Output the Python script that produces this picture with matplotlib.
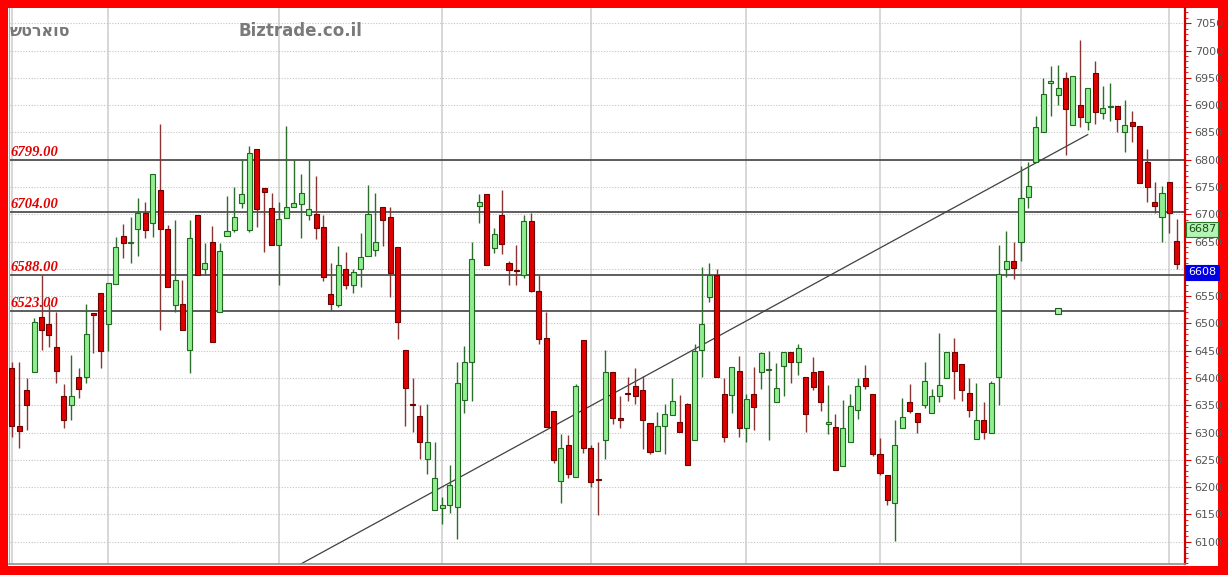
import matplotlib
matplotlib.use("Agg")
import matplotlib.pyplot as plt
from matplotlib.patches import Rectangle
from matplotlib.ticker import MultipleLocator, FuncFormatter
import numpy as np

# Daily OHLC prices
opens = [6419, 6312, 6378, 6410, 6511, 6499, 6456, 6366, 6350, 6401,
         6401, 6519, 6555, 6499, 6572, 6661, 6648, 6673, 6702, 6684,
         6745, 6673, 6533, 6536, 6451, 6699, 6599, 6650, 6521, 6660,
         6671, 6721, 6671, 6820, 6748, 6711, 6644, 6693, 6713, 6719,
         6699, 6700, 6676, 6554, 6534, 6600, 6570, 6600, 6624, 6635,
         6714, 6695, 6640, 6451, 6353, 6330, 6251, 6158, 6161, 6167,
         6164, 6360, 6429, 6716, 6737, 6638, 6699, 6611, 6598, 6589,
         6687, 6560, 6473, 6340, 6212, 6277, 6219, 6470, 6271, 6215,
         6287, 6410, 6326, 6372, 6386, 6378, 6318, 6266, 6312, 6332,
         6320, 6352, 6286, 6451, 6548, 6589, 6371, 6369, 6412, 6308,
         6371, 6410, 6415, 6355, 6421, 6447, 6430, 6401, 6410, 6413,
         6316, 6311, 6239, 6282, 6341, 6399, 6371, 6260, 6222, 6170,
         6308, 6356, 6335, 6350, 6335, 6367, 6399, 6448, 6425, 6372,
         6288, 6322, 6300, 6401, 6600, 6615, 6649, 6731, 6795, 6850,
         6941, 6918, 6950, 6864, 6901, 6869, 6959, 6886, 6897, 6899,
         6850, 6869, 6861, 6796, 6722, 6695, 6760, 6651]
highs = [6429, 6429, 6399, 6510, 6588, 6536, 6521, 6389, 6442, 6418,
         6536, 6519, 6555, 6574, 6658, 6683, 6695, 6729, 6723, 6774,
         6866, 6681, 6690, 6580, 6690, 6699, 6648, 6679, 6648, 6733,
         6750, 6800, 6825, 6820, 6748, 6739, 6722, 6861, 6800, 6773,
         6800, 6771, 6698, 6611, 6641, 6631, 6600, 6666, 6754, 6739,
         6714, 6714, 6640, 6451, 6399, 6350, 6352, 6282, 6181, 6240,
         6430, 6459, 6650, 6738, 6737, 6674, 6744, 6615, 6643, 6699,
         6702, 6589, 6521, 6340, 6298, 6295, 6388, 6470, 6277, 6283,
         6451, 6410, 6367, 6401, 6419, 6404, 6318, 6337, 6352, 6399,
         6369, 6354, 6463, 6604, 6611, 6599, 6399, 6420, 6441, 6371,
         6420, 6448, 6449, 6427, 6447, 6447, 6463, 6401, 6438, 6413,
         6387, 6334, 6360, 6370, 6399, 6423, 6371, 6290, 6222, 6323,
         6364, 6389, 6335, 6430, 6379, 6482, 6448, 6473, 6425, 6399,
         6391, 6355, 6395, 6644, 6669, 6650, 6788, 6795, 6880, 6950,
         6972, 6973, 6961, 6953, 7019, 6932, 6981, 6935, 6940, 6899,
         6910, 6889, 6861, 6819, 6759, 6751, 6760, 6692]
lows = [6292, 6271, 6305, 6410, 6451, 6456, 6391, 6309, 6323, 6364,
        6391, 6445, 6418, 6450, 6572, 6620, 6611, 6623, 6656, 6658,
        6488, 6566, 6521, 6488, 6409, 6588, 6588, 6465, 6521, 6660,
        6667, 6711, 6667, 6677, 6630, 6643, 6571, 6693, 6713, 6656,
        6689, 6655, 6577, 6525, 6530, 6563, 6555, 6566, 6624, 6623,
        6641, 6549, 6471, 6312, 6301, 6251, 6224, 6158, 6132, 6152,
        6104, 6336, 6357, 6684, 6607, 6629, 6628, 6571, 6570, 6583,
        6557, 6462, 6311, 6244, 6170, 6216, 6219, 6262, 6201, 6148,
        6252, 6316, 6308, 6358, 6352, 6269, 6260, 6266, 6260, 6332,
        6301, 6240, 6286, 6401, 6540, 6402, 6282, 6335, 6291, 6283,
        6304, 6379, 6286, 6355, 6367, 6391, 6405, 6301, 6377, 6340,
        6298, 6231, 6239, 6282, 6324, 6379, 6257, 6222, 6167, 6101,
        6308, 6335, 6300, 6344, 6335, 6355, 6399, 6362, 6358, 6328,
        6288, 6289, 6300, 6350, 6585, 6581, 6614, 6711, 6795, 6850,
        6880, 6901, 6809, 6864, 6860, 6854, 6866, 6875, 6871, 6850,
        6814, 6832, 6757, 6722, 6702, 6649, 6666, 6600]
closes = [6312, 6303, 6350, 6502, 6487, 6479, 6413, 6323, 6367, 6380,
          6481, 6515, 6450, 6574, 6640, 6647, 6650, 6702, 6671, 6774,
          6673, 6566, 6580, 6488, 6656, 6588, 6611, 6465, 6633, 6670,
          6695, 6737, 6812, 6710, 6741, 6643, 6692, 6713, 6720, 6739,
          6710, 6675, 6585, 6536, 6607, 6570, 6594, 6621, 6700, 6650,
          6689, 6592, 6502, 6381, 6351, 6282, 6282, 6216, 6168, 6204,
          6391, 6429, 6618, 6722, 6607, 6663, 6646, 6597, 6596, 6687,
          6560, 6471, 6311, 6250, 6272, 6224, 6385, 6271, 6210, 6213,
          6410, 6326, 6322, 6370, 6367, 6323, 6265, 6312, 6334, 6358,
          6301, 6240, 6450, 6499, 6588, 6402, 6291, 6420, 6308, 6361,
          6347, 6445, 6417, 6381, 6447, 6430, 6454, 6334, 6383, 6355,
          6320, 6231, 6308, 6349, 6385, 6385, 6260, 6226, 6176, 6277,
          6329, 6340, 6319, 6395, 6367, 6387, 6448, 6413, 6377, 6342,
          6322, 6301, 6391, 6591, 6614, 6601, 6730, 6752, 6860, 6921,
          6944, 6932, 6893, 6953, 6879, 6932, 6887, 6895, 6899, 6875,
          6864, 6861, 6757, 6750, 6716, 6739, 6702, 6608]

# Support / resistance levels and trend line
levels = [6799, 6704, 6588, 6523]
trend_start = (38, 6052)
trend_end = (145, 6846)
anchor_point = (141, 6523)
indicator_value = 6687

# First session of each month
month_starts = [0, 13, 36, 58, 78, 99, 117, 136, 156]

ticker_name = "שטראוס"
site_name = "Biztrade.co.il"

W, H = 1228, 575
fig = plt.figure(figsize=(W / 100, H / 100), dpi=100, facecolor="#ff0000")

# white canvas inside the red frame
fig.patches.append(Rectangle((8 / W, 9 / H), (1218 - 8) / W, (566 - 8) / H,
                             transform=fig.transFigure, fc="white", ec="none",
                             zorder=-10))

ax = fig.add_axes([9 / W, 11 / H, (1185 - 9) / W, (564 - 8) / H])
ax.set_facecolor("white")

n = len(closes)
x = np.arange(n)
o = np.array(opens, float)
c = np.array(closes, float)
h = np.array(highs, float)
l = np.array(lows, float)
up = c >= o

# month separators and dotted price grid
ax.vlines(month_starts, 6000, 7200, colors="#d4d4d4", lw=1.3, zorder=0.5)
ax.yaxis.grid(True, which="major", color="#c4c4c4", linestyle=(0, (1, 1.5)), lw=0.8, zorder=0.4)
ax.set_axisbelow(True)

# horizontal levels with their labels
for lv in levels:
    ax.axhline(lv, color="#505050", lw=1.3, zorder=1.5)
    ax.annotate(f"{lv:.2f}", xy=(0, lv), xycoords=ax.get_yaxis_transform(),
                xytext=(1, 3), textcoords="offset points", color="#e00000",
                fontsize=10.5, fontweight="bold", fontstyle="italic",
                family="Liberation Serif", va="baseline", ha="left", zorder=5)

# trend line
ax.plot([trend_start[0], trend_end[0]], [trend_start[1], trend_end[1]],
        color="#404040", lw=0.9, zorder=1.6)

# candles
wick_colors = np.where(up, "#2d6e2d", "#8b3434")
ax.vlines(x, l, h, colors=wick_colors, lw=1.0, zorder=2)
body_bottom = np.minimum(o, c)
body_height = np.maximum(np.abs(c - o), 1.5)
face = np.where(up, "#90ee90", "#e00000")
edge = np.where(up, "#1f6a1f", "#6e0000")
ax.bar(x, body_height, bottom=body_bottom, width=0.68, color=face,
       edgecolor=edge, linewidth=0.8, zorder=3)

# anchor marker
ax.plot(anchor_point[0], anchor_point[1], marker="s", ms=5, mfc="#a8f0a8",
        mec="#205a20", mew=0.8, zorder=4)

ax.set_xlim(-0.38, 158.1)
ax.set_ylim(6059, 7078)

# price axis on the right; the last-close box covers the tick label beneath it
last_close = closes[-1]


def price_label(v, pos):
    if last_close - 26 <= v <= last_close:
        return ""
    return f"{v:.0f}"


ax.yaxis.tick_right()
ax.yaxis.set_major_locator(MultipleLocator(50))
ax.yaxis.set_minor_locator(MultipleLocator(10))
ax.yaxis.set_major_formatter(FuncFormatter(price_label))
ax.tick_params(axis="y", which="major", length=4, color="#dd0000",
               labelsize=8, labelcolor="#555555", pad=3)
ax.tick_params(axis="y", which="minor", length=2, color="#dd0000")
ax.tick_params(axis="x", which="both", bottom=False, labelbottom=False)

ax.spines["top"].set_visible(False)
ax.spines["right"].set_color("#d00000")
ax.spines["right"].set_linewidth(1.6)
ax.spines["left"].set_color("#b0b0b0")
ax.spines["bottom"].set_color("#909090")
ax.spines["bottom"].set_linewidth(1.2)

# value boxes on the price axis
ax.annotate(f"{indicator_value}", xy=(1, indicator_value), xycoords=ax.get_yaxis_transform(),
            xytext=(3, -3), textcoords="offset pixels", ha="left", va="top",
            fontsize=8, color="#1a4a1a", annotation_clip=False,
            bbox=dict(boxstyle="square,pad=0.2", fc="#b4f4b4", ec="#2a7a2a", lw=0.8))
ax.annotate(f"{last_close}", xy=(1, last_close), xycoords=ax.get_yaxis_transform(),
            xytext=(3, -3), textcoords="offset pixels", ha="left", va="top",
            fontsize=8, color="white", annotation_clip=False,
            bbox=dict(boxstyle="square,pad=0.25", fc="#0000e6", ec="#0000e6", lw=0.8))

# header texts
fig.text(10 / W, 1 - 31 / H, ticker_name, ha="left", va="center",
         fontsize=11.5, fontweight="bold", color="#777777")
fig.text(238 / W, 1 - 31 / H, site_name, ha="left", va="center",
         fontsize=12, fontweight="bold", color="#7a7a7a")

fig.savefig("out.png", dpi=100, facecolor=fig.get_facecolor())
